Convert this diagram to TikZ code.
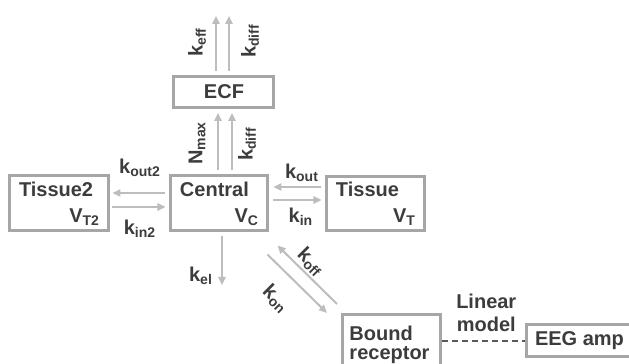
\documentclass[tikz,border=0pt]{standalone}
\usepackage{fontspec}
\setmainfont{Liberation Sans}
\usetikzlibrary{arrows.meta,positioning}

\definecolor{boxgray}{HTML}{A6A6A6}
\definecolor{arrowgray}{HTML}{BDBDBD}
\definecolor{textgray}{HTML}{3C3C3C}

\begin{document}
\begin{tikzpicture}[
    x=0.5pt, y=-0.5pt,
    >={Triangle[length=4pt,width=3.6pt]},
    every node/.style={font=\fontsize{10}{11.5}\selectfont\bfseries, text=textgray},
    comp/.style={
        rectangle,
        draw=boxgray,
        line width=1.5pt,
        inner xsep=4.5pt,
        inner ysep=0pt,
        align=left
    },
    flow/.style={->, draw=arrowgray, line width=1pt, shorten <=2pt, shorten >=2pt},
    rate/.style={inner sep=1pt},
    link/.style={draw=textgray!85, line width=0.6pt, densely dashed}
]
\useasboundingbox (0,0) rectangle (629,364);

% compartments
\node[comp, minimum width=50pt, minimum height=15.5pt, align=center] (ecf) at (224,92) {ECF};
\node[comp, minimum width=48.5pt, minimum height=27.5pt, text width=39.5pt] (central) at (219.5,203.5)
    {Central\\[1.5pt]\hspace*{\fill}V\textsubscript{C}};
\node[comp, minimum width=49.5pt, minimum height=27.5pt, text width=40.5pt] (tissue2) at (59.5,203.5)
    {Tissue2\\[1.5pt]\hspace*{\fill}V\textsubscript{T2}};
\node[comp, minimum width=49pt, minimum height=27pt, text width=40pt] (tissue) at (376,204)
    {Tissue\\[1.5pt]\hspace*{\fill}V\textsubscript{T}};
\node[comp, anchor=north west, minimum width=49pt, minimum height=30pt, text width=42pt, inner xsep=3.5pt,
    font=\fontsize{10}{9.5}\selectfont\bfseries] (bound) at (341,313) {Bound\\receptor};
\node[comp, minimum width=47.5pt, minimum height=16pt, align=center] (eeg) at (579.5,341) {EEG amp};

% free ends
\coordinate (effend) at (216,12);
\coordinate (diffend) at (229,12);
\coordinate (elend) at (222,289);

% ECF outflows
\draw[flow] (ecf.north -| effend) -- (effend);
\draw[flow] (ecf.north -| diffend) -- (diffend);

% central -> ECF
\draw[flow] ([xshift=-0.75pt]central.north) -- ([xshift=-0.75pt]central.north |- ecf.south);
\draw[flow] ([xshift=6.25pt]central.north) -- ([xshift=6.25pt]central.north |- ecf.south);

% central <-> tissue2
\draw[flow, shorten >=1pt] ([yshift=5.25pt]central.west) -- ([yshift=5.25pt]central.west -| tissue2.east);
\draw[flow, shorten <=1pt] ([yshift=-1.75pt]central.west -| tissue2.east) -- ([yshift=-1.75pt]central.west);

% central <-> tissue
\draw[flow] ([yshift=8.25pt]central.east -| tissue.west) -- ([yshift=8.25pt]central.east);
\draw[flow] ([yshift=1.75pt]central.east) -- ([yshift=1.75pt]central.east -| tissue.west);

% elimination
\draw[flow] (central.south -| elend) -- (elend);

% binding
\draw[flow, shorten <=0pt, shorten >=0pt] ([shift={(-4,-9)}]bound.north west) -- ([shift={(8,13)}]central.south east);
\draw[flow, shorten <=0pt, shorten >=0pt] ([shift={(-2,22)}]central.south east) -- ([shift={(-14,0)}]bound.north west);

% effect link
\draw[link] (eeg.west -| bound.east) -- (eeg.west)
    node[midway, above=4.5pt, xshift=1.5pt, align=center, inner sep=0pt] (linmod) {Linear\\model};

% rate labels
\node[rate, rotate=90] (keff) at (197,42) {k\textsubscript{eff}};
\node[rate, rotate=90] (kdiffout) at (250,41) {k\textsubscript{diff}};
\node[rate, rotate=90] (nmax) at (197,143) {N\textsubscript{max}};
\node[rate, rotate=90] (kdiffin) at (247,144) {k\textsubscript{diff}};
\node[rate] (kout2) at (140,168) {k\textsubscript{out2}};
\node[rate] (kin2) at (140,229) {k\textsubscript{in2}};
\node[rate] (kout) at (302,173) {k\textsubscript{out}};
\node[rate] (kin) at (301,217) {k\textsubscript{in}};
\node[rate] (kel) at (201,276) {k\textsubscript{el}};
\node[rate, rotate=-45] (koff) at (311,262) {k\textsubscript{off}};
\node[rate, rotate=-45] (kon) at (276,299) {k\textsubscript{on}};

\end{tikzpicture}
\end{document}
